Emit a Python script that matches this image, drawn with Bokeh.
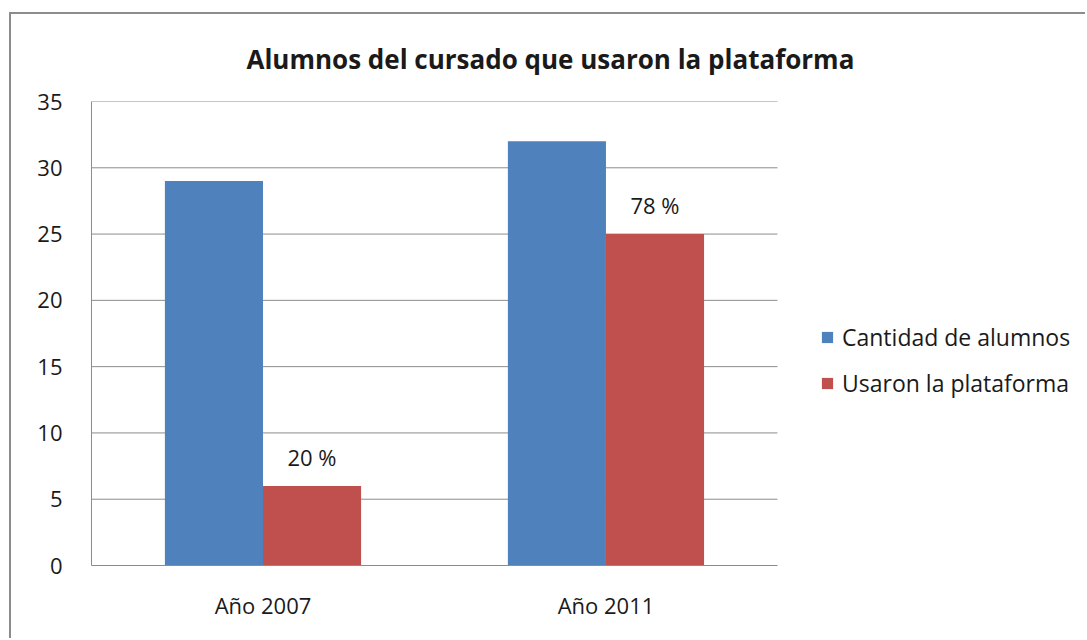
import numpy as np
from bokeh.plotting import figure
from bokeh.models import (ColumnDataSource, Range1d, FixedTicker,
                          Legend, LegendItem, LabelSet)
from bokeh.core.properties import value
from bokeh.embed import file_html
from bokeh.resources import INLINE

# ---- data ----
categories = ["Año 2007", "Año 2011"]
cantidad_alumnos = [29, 32]
usaron_plataforma = [6, 25]
porcentaje_labels = ["20 %", "78 %"]
y_ticks = [0, 5, 10, 15, 20, 25, 30, 35]
series_names = ["Cantidad de alumnos", "Usaron la plataforma"]

BLUE = "#4F81BD"
RED = "#C0504D"
GRID = "#8c8c8c"
TXT = "#1a1a1a"
FONT = "Open Sans"

bw = 0.286
n = len(categories)
xc = np.arange(n) + 0.5
src = ColumnDataSource(dict(xb=xc - bw / 2, xr=xc + bw / 2,
                            cant=cantidad_alumnos, usa=usaron_plataforma,
                            pct=porcentaje_labels))

# frame spans to the right edge (legend lives inside it); data area is [0, n]
p = figure(x_range=Range1d(0, 2.904), y_range=Range1d(0, 35),
           width=1076, height=626, output_backend="svg", toolbar_location=None,
           min_border_left=80, min_border_right=0, min_border_top=87,
           min_border_bottom=75)
p.margin = (12, 0, 0, 9)
p.styles = {"border-top": "2px solid #8c8c8c", "border-left": "2px solid #8c8c8c"}

p.outline_line_color = None
p.background_fill_color = "white"
p.border_fill_color = "white"

# horizontal gridlines limited to the data area
p.segment(x0=[0] * len(y_ticks), x1=[n] * len(y_ticks), y0=y_ticks, y1=y_ticks,
          line_color=GRID, line_width=1)

r1 = p.vbar(x="xb", top="cant", width=bw, source=src,
            fill_color=BLUE, line_color=None)
r2 = p.vbar(x="xr", top="usa", width=bw, source=src,
            fill_color=RED, line_color=None)

labels = LabelSet(x="xr", y="usa", text="pct", source=src,
                  text_align="center", text_baseline="bottom", y_offset=14,
                  text_font=value(FONT), text_font_size="22px", text_color=TXT)
p.add_layout(labels)

# axes
p.xgrid.grid_line_color = None
p.ygrid.grid_line_color = None
p.yaxis.ticker = FixedTicker(ticks=y_ticks)
p.xaxis.ticker = FixedTicker(ticks=list(xc))
p.xaxis.major_label_overrides = {float(x): c for x, c in zip(xc, categories)}
p.xaxis.bounds = (0, n)
for ax in (p.xaxis[0], p.yaxis[0]):
    ax.axis_line_color = GRID
    ax.major_tick_line_color = None
    ax.minor_tick_line_color = None
    ax.major_label_text_font = FONT
    ax.major_label_text_color = TXT
    ax.major_label_text_font_size = "22px"
p.yaxis.major_label_standoff = 23
p.xaxis.major_label_standoff = 18

# title
p.title.text = "Alumnos del cursado que usaron la plataforma"
p.title.align = "left"
p.title.offset = 155
p.title.standoff = 49
p.title.text_font = FONT
p.title.text_font_size = "26px"
p.title.text_font_style = "bold"
p.title.text_color = TXT

legend = Legend(items=[LegendItem(label=series_names[0], renderers=[r1]),
                       LegendItem(label=series_names[1], renderers=[r2])],
                location=(729, 166), border_line_color=None,
                background_fill_alpha=0, glyph_width=14, glyph_height=14,
                label_text_font=FONT, label_text_font_size="23px",
                label_text_color=TXT, spacing=14, label_standoff=8,
                padding=10)
p.add_layout(legend)

open("out.html", "w").write(file_html(p, INLINE))
